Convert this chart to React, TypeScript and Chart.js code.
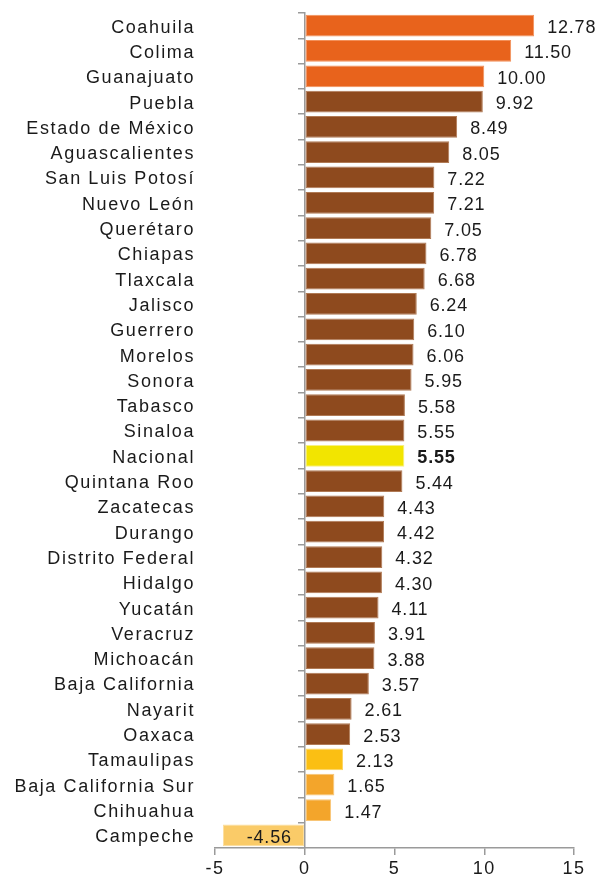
import React, { useEffect, useRef } from "react";
import { Chart, registerables } from "chart.js";

Chart.register(...registerables);

const states = [
  "Coahuila", "Colima", "Guanajuato", "Puebla", "Estado de México", "Aguascalientes",
  "San Luis Potosí", "Nuevo León", "Querétaro", "Chiapas", "Tlaxcala", "Jalisco",
  "Guerrero", "Morelos", "Sonora", "Tabasco", "Sinaloa", "Nacional", "Quintana Roo",
  "Zacatecas", "Durango", "Distrito Federal", "Hidalgo", "Yucatán", "Veracruz",
  "Michoacán", "Baja California", "Nayarit", "Oaxaca", "Tamaulipas",
  "Baja California Sur", "Chihuahua", "Campeche",
];

const values = [
  12.78, 11.5, 10.0, 9.92, 8.49, 8.05, 7.22, 7.21, 7.05, 6.78, 6.68, 6.24, 6.1, 6.06,
  5.95, 5.58, 5.55, 5.55, 5.44, 4.43, 4.42, 4.32, 4.3, 4.11, 3.91, 3.88, 3.57, 2.61,
  2.53, 2.13, 1.65, 1.47, -4.56,
];

const xTicks = [-5, 0, 5, 10, 15];

const ORANGE = "#E8631C";
const BROWN = "#8E4A1E";
const YELLOW = "#F2E500";
const GOLD = "#FBBF13";
const AMBER = "#F3A52B";
const PALE = "#FACB68";

const orangeStates = ["Coahuila", "Colima", "Guanajuato"];
const specialColors: Record<string, string> = {
  Nacional: YELLOW,
  Tamaulipas: GOLD,
  "Baja California Sur": AMBER,
  Chihuahua: AMBER,
  Campeche: PALE,
};

const borderFor: Record<string, string> = {
  [ORANGE]: "#F2905A",
  [BROWN]: "#B07A55",
  [YELLOW]: "#F8F080",
  [GOLD]: "#FDD560",
  [AMBER]: "#F8C576",
  [PALE]: "#FCDD9C",
};

const FONT = "'Liberation Sans', Arial, sans-serif";
const TEXT = "#1a1a1a";
const AXIS = "#9a9a9a";

export default function App() {
  const ref = useRef<HTMLCanvasElement | null>(null);

  useEffect(() => {
    if (!ref.current) return;
    const colors = states.map((s) =>
      specialColors[s] ? specialColors[s] : orangeStates.includes(s) ? ORANGE : BROWN
    );

    const labelPlugin = {
      id: "valueLabels",
      beforeDraw(chart: any) {
        (chart.ctx as any).letterSpacing = "1.6px";
      },
      afterDatasetsDraw(chart: any) {
        const ctx = chart.ctx;
        const meta = chart.getDatasetMeta(0);
        const zero = chart.scales.x.getPixelForValue(0);
        ctx.save();
        (ctx as any).letterSpacing = "0.8px";
        ctx.fillStyle = TEXT;
        ctx.textBaseline = "middle";
        meta.data.forEach((bar: any, i: number) => {
          const v = values[i];
          ctx.font = (states[i] === "Nacional" ? "bold " : "") + "18px " + FONT;
          const txt = v.toFixed(2);
          if (v >= 0) {
            ctx.textAlign = "left";
            ctx.fillText(txt, bar.x + 13, bar.y + 2.5);
          } else {
            ctx.textAlign = "right";
            ctx.fillText(txt, zero - 13, bar.y + 2.5);
          }
        });
        ctx.restore();
        (ctx as any).letterSpacing = "0px";
      },
    };

    const chart = new Chart(ref.current, {
      type: "bar",
      data: {
        labels: states,
        datasets: [
          {
            data: values,
            backgroundColor: colors,
            borderColor: colors.map((c) => borderFor[c]),
            borderWidth: 1,
            borderSkipped: false,
            barPercentage: 0.86,
            categoryPercentage: 1,
          },
        ],
      },
      options: {
        indexAxis: "y",
        animation: false,
        responsive: false,
        devicePixelRatio: 1,
        layout: { padding: { top: 13, right: 33, left: 0, bottom: 0 } },
        plugins: {
          legend: { display: false },
          tooltip: { enabled: false },
        },
        scales: {
          x: {
            type: "linear",
            min: -5,
            max: 15,
            afterBuildTicks: (s: any) => {
              s.ticks = xTicks.map((v) => ({ value: v }));
            },
            grid: {
              drawOnChartArea: false,
              drawTicks: true,
              tickLength: 7,
              color: AXIS,
              lineWidth: 1.5,
            },
            border: { display: true, color: AXIS, width: 1.5 },
            ticks: {
              font: { family: FONT, size: 18 },
              color: TEXT,
              padding: 3,
            },
            afterFit: (s: any) => {
              s.height = 40;
              s.paddingLeft = 0;
              s.paddingRight = 0;
            },
          },
          y: {
            type: "category",
            position: "left",
            grid: { display: false, drawTicks: false },
            border: { display: false },
            ticks: {
              autoSkip: false,
              font: { family: FONT, size: 18 },
              color: TEXT,
              padding: 20,
              labelOffset: 2,
            },
            afterFit: (s: any) => {
              s.width = 215;
              s.paddingTop = 0;
              s.paddingBottom = 0;
            },
          },
          y2: {
            type: "category",
            position: { x: 0 },
            offset: true,
            z: 1,
            grid: {
              display: true,
              offset: true,
              drawOnChartArea: false,
              drawTicks: true,
              tickLength: 6,
              color: AXIS,
              lineWidth: 1.5,
            },
            border: { display: true, color: AXIS, width: 1.5 },
            ticks: { display: false, autoSkip: false },
            afterFit: (s: any) => {
              s.width = 0;
              s.paddingTop = 0;
              s.paddingBottom = 0;
            },
          },
        },
      } as any,
      plugins: [labelPlugin],
    });

    return () => chart.destroy();
  }, []);

  return (
    <div style={{ position: "fixed", left: 0, top: 0, width: 607, height: 888, background: "#fff" }}>
      <canvas ref={ref} width={607} height={888} />
    </div>
  );
}
